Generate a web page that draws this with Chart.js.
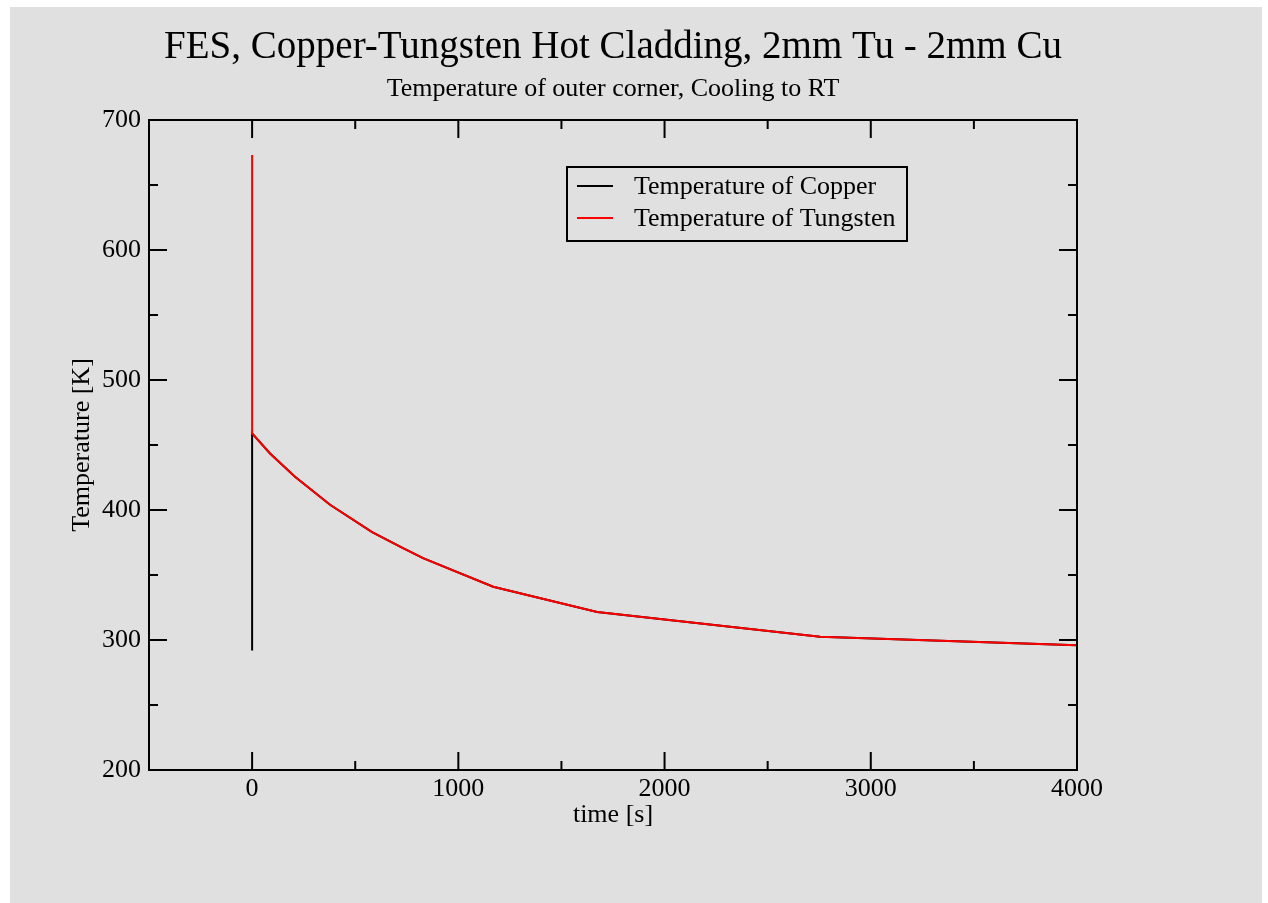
<!DOCTYPE html>
<html>
<head>
<meta charset="utf-8">
<title>FES Copper-Tungsten Hot Cladding</title>
<script src="https://cdn.jsdelivr.net/npm/chart.js@4.4.0/dist/chart.umd.min.js"></script>
<style>
    html, body { margin: 0; padding: 0; background: #ffffff; }
    #wrap { position: absolute; left: 10px; top: 7px; width: 1252px; height: 896px; background: #e0e0e0; }
</style>
</head>
<body>
<div id="wrap"><canvas id="tempChart"></canvas></div>
<script>
// data
const timeCopper = [0, 0, 0, 87, 208, 378, 582, 727, 829, 1169, 1673, 2754, 4000];
const tempCopper = [292, 454, 459, 443.5, 425.5, 404, 383, 371, 363, 341, 321.5, 302.5, 296];

const timeTungsten = [0, 0, 87, 208, 378, 582, 727, 829, 1169, 1673, 2754, 4000];
const tempTungsten = [673, 459, 443.5, 425.5, 404, 383, 371, 363, 341, 321.5, 302.5, 296];

const xTicks = { min: -500, max: 4000, step: 500, major: 1000 };
const yTicks = { min: 200, max: 700, step: 50, major: 100 };

const seriesNames = ['Temperature of Copper', 'Temperature of Tungsten'];
const seriesColors = ['#000000', '#ff0000'];

const FONT = 'Liberation Serif';

function toPoints(xs, ys) {
    return xs.map((x, i) => ({ x: x, y: ys[i] }));
}

// frame, inward ticks on all four sides, titles and legend box (xmgrace look)
const gracePlugin = {
    id: 'grace',
    afterDraw(chart) {
        const ctx = chart.ctx;
        const a = chart.chartArea;
        const xs = chart.scales.x, ys = chart.scales.y;
        ctx.save();
        ctx.strokeStyle = '#000';
        ctx.lineWidth = 2;
        ctx.strokeRect(a.left, a.top, a.right - a.left, a.bottom - a.top);

        ctx.beginPath();
        xs.ticks.forEach(t => {
            const px = xs.getPixelForValue(t.value);
            const len = t.value % xTicks.major === 0 ? 18 : 9;
            ctx.moveTo(px, a.bottom); ctx.lineTo(px, a.bottom - len);
            ctx.moveTo(px, a.top); ctx.lineTo(px, a.top + len);
        });
        ys.ticks.forEach(t => {
            const py = ys.getPixelForValue(t.value);
            const len = t.value % yTicks.major === 0 ? 18 : 9;
            ctx.moveTo(a.left, py); ctx.lineTo(a.left + len, py);
            ctx.moveTo(a.right, py); ctx.lineTo(a.right - len, py);
        });
        ctx.stroke();

        // titles
        const cx = (a.left + a.right) / 2;
        ctx.fillStyle = '#000';
        ctx.textAlign = 'center';
        ctx.textBaseline = 'alphabetic';
        ctx.font = '39px "' + FONT + '"';
        ctx.fillText('FES, Copper-Tungsten Hot Cladding, 2mm Tu - 2mm Cu', cx, 51);
        ctx.font = '26px "' + FONT + '"';
        ctx.fillText('Temperature of outer corner, Cooling to RT', cx, 89);

        // legend
        const lx = a.left + 418, ly = a.top + 47;
        ctx.lineWidth = 2;
        ctx.strokeRect(lx, ly, 340, 74);
        ctx.textAlign = 'left';
        seriesNames.forEach((name, i) => {
            const yy = ly + 19 + i * 32;
            ctx.strokeStyle = seriesColors[i];
            ctx.beginPath();
            ctx.moveTo(lx + 10, yy); ctx.lineTo(lx + 46, yy);
            ctx.stroke();
            ctx.fillText(name, lx + 67, yy + 8);
        });
        ctx.restore();
    }
};

const ctx = document.getElementById('tempChart').getContext('2d');

const tempChart = new Chart(ctx, {
    type: 'scatter',
    data: {
        datasets: [{
            label: seriesNames[0],
            data: toPoints(timeCopper, tempCopper),
            borderColor: seriesColors[0],
            backgroundColor: seriesColors[0],
            borderWidth: 2,
            showLine: true,
            pointRadius: 0,
            tension: 0,
            order: 1,
        }, {
            label: seriesNames[1],
            data: toPoints(timeTungsten, tempTungsten),
            borderColor: seriesColors[1],
            backgroundColor: seriesColors[1],
            borderWidth: 2,
            showLine: true,
            pointRadius: 0,
            tension: 0,
            order: 0,
        }]
    },
    options: {
        responsive: true,
        maintainAspectRatio: false,
        animation: false,
        layout: {
            padding: { left: 0, top: 113, right: 185, bottom: 0 }
        },
        plugins: {
            legend: { display: false },
            tooltip: { enabled: false },
        },
        scales: {
            x: {
                type: 'linear',
                min: xTicks.min,
                max: xTicks.max,
                afterFit: (scale) => { scale.height = 133; },
                grid: { display: false, drawTicks: false },
                border: { display: false },
                ticks: {
                    stepSize: xTicks.step,
                    autoSkip: false,
                    maxRotation: 0,
                    padding: 4,
                    color: '#000',
                    font: { family: FONT, size: 26 },
                    callback: (v) => v % xTicks.major === 0 ? v : '',
                },
                title: {
                    display: true,
                    text: 'time [s]',
                    color: '#000',
                    font: { family: FONT, size: 26 },
                    padding: { top: 0, bottom: 72 },
                }
            },
            y: {
                type: 'linear',
                min: yTicks.min,
                max: yTicks.max,
                afterFit: (scale) => { scale.width = 139; },
                grid: { display: false, drawTicks: false },
                border: { display: false },
                ticks: {
                    stepSize: yTicks.step,
                    autoSkip: false,
                    padding: 8,
                    color: '#000',
                    font: { family: FONT, size: 26 },
                    callback: (v) => v % yTicks.major === 0 ? v : '',
                },
                title: {
                    display: true,
                    text: 'Temperature [K]',
                    color: '#000',
                    font: { family: FONT, size: 26 },
                    padding: { top: 57, bottom: 0 },
                }
            }
        }
    },
    plugins: [gracePlugin]
});
</script>
</body>
</html>
